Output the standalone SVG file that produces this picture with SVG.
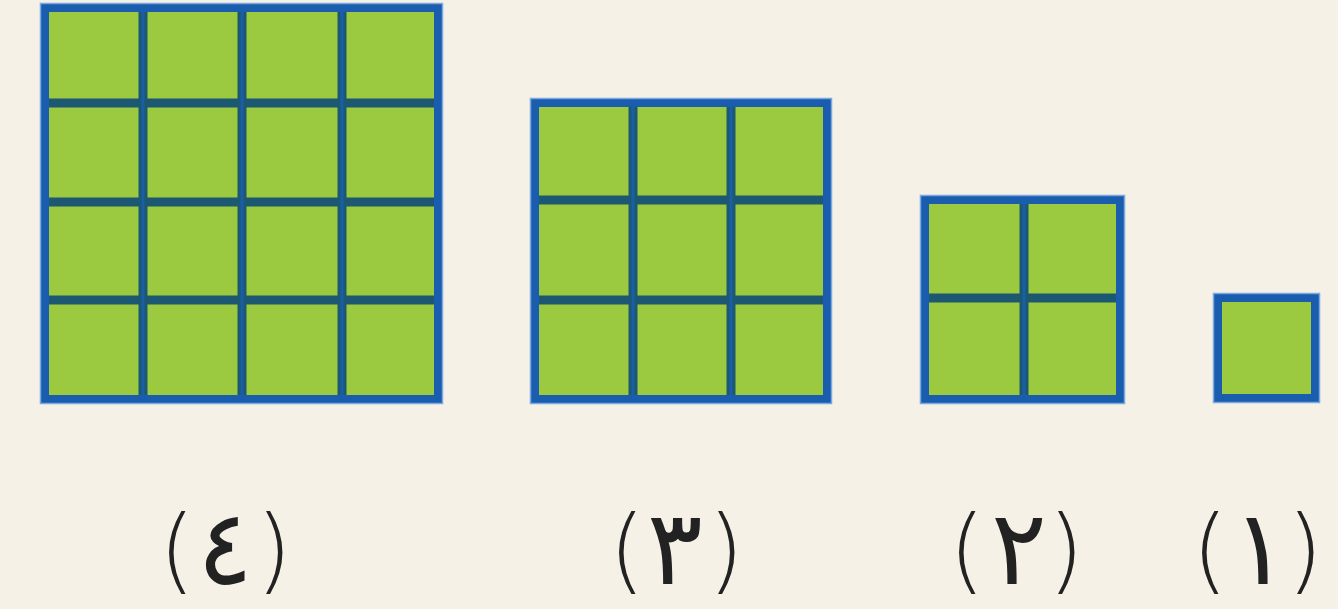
<svg xmlns="http://www.w3.org/2000/svg" width="1338" height="609" viewBox="0 0 1338 609">
<style>
.cell{fill:#9bc93f}
.outer{fill:none;stroke:#1a5cae;stroke-width:9}
.edge{fill:none;stroke:#7aa8e0;stroke-width:1.5}
.inner{stroke:#1c5872;stroke-width:9}
.core{stroke:#1a5ea6;stroke-width:3}
.lbl{font-family:"DejaVu Sans","Noto Sans",sans-serif;font-size:92px;fill:#222;text-anchor:middle}
.par{font-weight:200}
.dig{font-size:104px;font-weight:normal}
</style>
<rect width="1338" height="609" fill="#f5f1e6"/>
<g id="square4">
<rect class="cell" x="44.5" y="7.5" width="394" height="392"/>
<line class="inner" x1="143" y1="7.5" x2="143" y2="399.5"/>
<line class="inner" x1="242" y1="7.5" x2="242" y2="399.5"/>
<line class="inner" x1="342" y1="7.5" x2="342" y2="399.5"/>
<line class="inner" x1="44.5" y1="103" x2="438.5" y2="103"/>
<line class="inner" x1="44.5" y1="202" x2="438.5" y2="202"/>
<line class="inner" x1="44.5" y1="300" x2="438.5" y2="300"/>
<line class="core" x1="143" y1="7.5" x2="143" y2="399.5"/>
<line class="core" x1="242" y1="7.5" x2="242" y2="399.5"/>
<line class="core" x1="342" y1="7.5" x2="342" y2="399.5"/>
<rect class="outer" x="44.5" y="7.5" width="394" height="392"/>
<rect class="edge" x="40.5" y="3.5" width="402" height="400"/>
</g>
<g id="square3">
<rect class="cell" x="534.5" y="102.5" width="293" height="297"/>
<line class="inner" x1="633" y1="102.5" x2="633" y2="399.5"/>
<line class="inner" x1="731" y1="102.5" x2="731" y2="399.5"/>
<line class="inner" x1="534.5" y1="200" x2="827.5" y2="200"/>
<line class="inner" x1="534.5" y1="300" x2="827.5" y2="300"/>
<line class="core" x1="633" y1="102.5" x2="633" y2="399.5"/>
<line class="core" x1="731" y1="102.5" x2="731" y2="399.5"/>
<rect class="outer" x="534.5" y="102.5" width="293" height="297"/>
<rect class="edge" x="530.5" y="98.5" width="301" height="305"/>
</g>
<g id="square2">
<rect class="cell" x="924.5" y="199.5" width="196" height="200"/>
<line class="inner" x1="1024" y1="199.5" x2="1024" y2="399.5"/>
<line class="inner" x1="924.5" y1="298" x2="1120.5" y2="298"/>
<line class="core" x1="1024" y1="199.5" x2="1024" y2="399.5"/>
<rect class="outer" x="924.5" y="199.5" width="196" height="200"/>
<rect class="edge" x="920.5" y="195.5" width="204" height="208"/>
</g>
<g id="square1">
<rect class="cell" x="1217.5" y="297.5" width="98" height="101"/>
<rect class="outer" x="1217.5" y="297.5" width="98" height="101"/>
<rect class="edge" x="1213.5" y="293.5" width="106" height="109"/>
</g>
<g id="labels">
<text id="label4" class="lbl" y="582"><tspan class="par" x="177">(</tspan><tspan class="dig" x="225" y="584">٤</tspan><tspan class="par" x="274" y="582">)</tspan></text>
<text id="label3" class="lbl" y="582"><tspan class="par" x="627">(</tspan><tspan class="dig" x="675" y="584">٣</tspan><tspan class="par" x="726" y="582">)</tspan></text>
<text id="label2" class="lbl" y="582"><tspan class="par" x="967">(</tspan><tspan class="dig" x="1019" y="584">٢</tspan><tspan class="par" x="1066" y="582">)</tspan></text>
<text id="label1" class="lbl" y="582"><tspan class="par" x="1210">(</tspan><tspan class="dig" x="1260" y="584">١</tspan><tspan class="par" x="1305" y="582">)</tspan></text>
</g>
</svg>
